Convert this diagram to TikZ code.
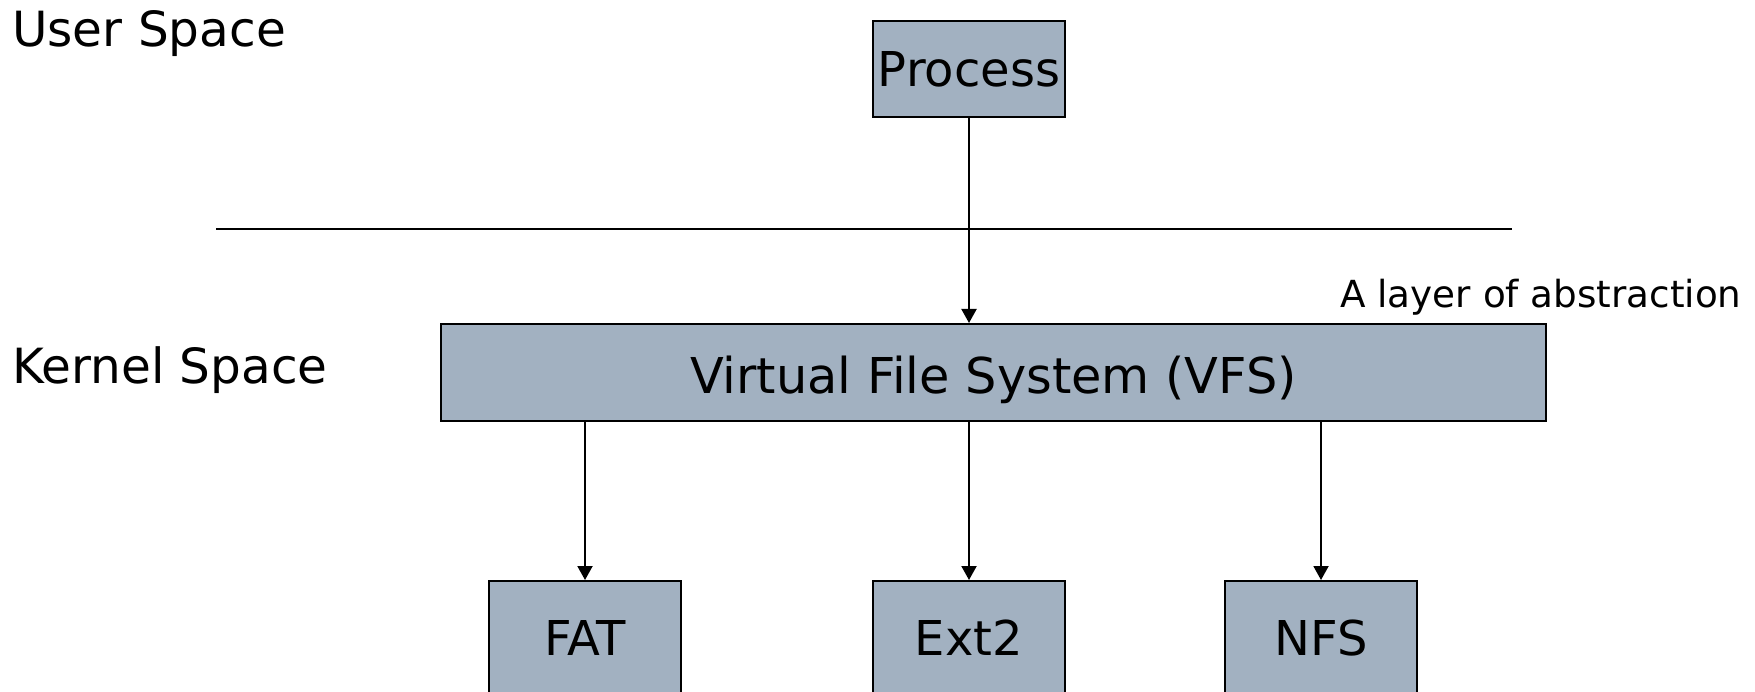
\documentclass[tikz,border=0pt]{standalone}
\usepackage{fontspec}
\setmainfont{DejaVu Sans}
\usetikzlibrary{arrows.meta}
\definecolor{boxfill}{RGB}{162,177,193}
\tikzset{
  box/.style={draw=black, line width=2pt, fill=boxfill, inner sep=0pt, text depth=0pt},
  big/.style={font=\fontsize{48}{58}\selectfont, text height=35pt},
  lbl/.style={inner sep=0pt, anchor=base west},
  conn/.style={line width=2pt, -{Triangle[width=15pt,length=14pt]}},
}
\begin{document}
\begin{tikzpicture}[x=1pt,y=-1pt]
\useasboundingbox (0,0) rectangle (1755,692);
\clip (0,0) rectangle (1755,692);
% labels
\node[lbl, font=\fontsize{48.5}{58}\selectfont] (us) at (12,47) {User Space};
\node[lbl, font=\fontsize{48.5}{58}\selectfont] (ks) at (12,383) {Kernel Space};
\node[lbl, font=\fontsize{37.3}{45}\selectfont] (abs) at (1340,308) {A layer of abstraction};
% separator
\coordinate (sepL) at (216,229);
\coordinate (sepR) at (1512,229);
\draw[line width=2pt] (sepL) -- (sepR);
% boxes
\node[box, big, minimum width=192pt, minimum height=96pt] (proc) at (969,69) {Process};
\node[box, minimum width=1105pt, minimum height=97pt] (vfs) at (993.5,372.5) {};
\node[inner sep=0pt, font=\fontsize{49.4}{58}\selectfont, text height=36pt, text depth=0pt] (vfst) at (993.5,375) {Virtual File System (VFS)};
\node[box, big, minimum width=192pt, minimum height=114pt] (fat) at (585,638) {FAT};
\node[box, big, minimum width=192pt, minimum height=114pt] (ext) at (969,638) {Ext2};
\node[box, big, minimum width=192pt, minimum height=114pt] (nfs) at (1321,638) {NFS};
% connectors
\draw[conn] (proc.south) -- (proc.south |- vfs.north);
\draw[conn] (fat.north |- vfs.south) -- (fat.north);
\draw[conn] (ext.north |- vfs.south) -- (ext.north);
\draw[conn] (nfs.north |- vfs.south) -- (nfs.north);
\end{tikzpicture}
\end{document}
